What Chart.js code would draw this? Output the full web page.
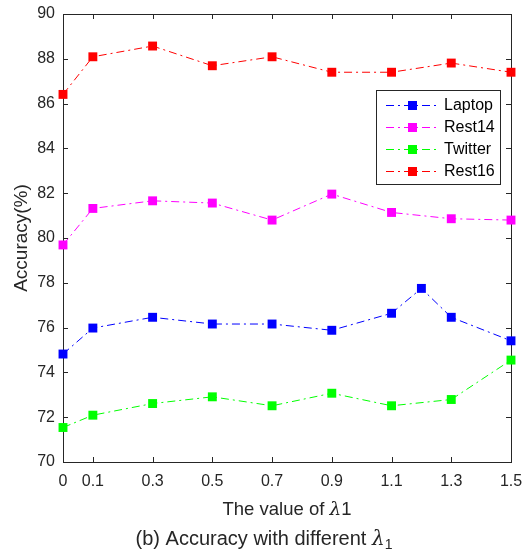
<!DOCTYPE html>
<html lang="en">
<head>
<meta charset="UTF-8">
<title>Accuracy with different lambda1</title>
<script src="https://cdn.jsdelivr.net/npm/chart.js"></script>
<style>
  body, html { margin: 0; padding: 0; background: #fff; }
  #chart { display: block; }
</style>
</head>
<body>
<canvas id="chart" width="524" height="554"></canvas>
<script>
// tick values on the x axis
const xTicks = [0, 0.1, 0.3, 0.5, 0.7, 0.9, 1.1, 1.3, 1.5];
// lambda values where the models were evaluated
const lambdaAll = [0, 0.1, 0.3, 0.5, 0.7, 0.9, 1.1, 1.3, 1.5];
const lambdaLaptop = [0, 0.1, 0.3, 0.5, 0.7, 0.9, 1.1, 1.2, 1.3, 1.5];

const laptop  = [74.82, 75.98, 76.46, 76.16, 76.16, 75.88, 76.64, 77.75, 76.46, 75.41];
const rest14  = [79.69, 81.32, 81.66, 81.56, 80.80, 81.96, 81.14, 80.86, 80.80];
const twitter = [71.54, 72.09, 72.61, 72.91, 72.51, 73.07, 72.51, 72.79, 74.55];
const rest16  = [86.41, 88.09, 88.57, 87.69, 88.09, 87.40, 87.40, 87.81, 87.40];

const seriesNames = ['Laptop', 'Rest14', 'Twitter', 'Rest16'];
const seriesColors = ['#0000ff', '#ff00ff', '#00ff00', '#ff0000'];

const FONT = '"Liberation Sans", Arial, Helvetica, sans-serif';
const INK = '#262626';
const DASH = [8, 4, 2, 4];

function pts(xs, ys) {
  return ys.map((y, i) => ({ x: xs[i], y: y }));
}

function makeSet(i, xs, ys) {
  return {
    label: seriesNames[i],
    data: pts(xs, ys),
    borderColor: seriesColors[i],
    backgroundColor: seriesColors[i],
    borderWidth: 1,
    borderDash: DASH,
    pointStyle: 'rect',
    pointRadius: 6.3,
    pointHoverRadius: 6.3,
    pointBorderWidth: 0,
    tension: 0,
    clip: false
  };
}

// frame with inward ticks, like the matlab box
const framePlugin = {
  id: 'frame',
  beforeDatasetsDraw(chart) {
    const { ctx, chartArea: a, scales } = chart;
    ctx.save();
    ctx.strokeStyle = INK;
    ctx.lineWidth = 1;
    ctx.strokeRect(Math.round(a.left) + 0.5, Math.round(a.top) + 0.5,
      Math.round(a.right - a.left), Math.round(a.bottom - a.top));
    ctx.beginPath();
    xTicks.forEach(v => {
      const x = Math.round(scales.x.getPixelForValue(v)) + 0.5;
      ctx.moveTo(x, a.bottom); ctx.lineTo(x, a.bottom - 5);
      ctx.moveTo(x, a.top); ctx.lineTo(x, a.top + 5);
    });
    scales.y.ticks.forEach(t => {
      const y = Math.round(scales.y.getPixelForValue(t.value)) + 0.5;
      ctx.moveTo(a.left, y); ctx.lineTo(a.left + 5, y);
      ctx.moveTo(a.right, y); ctx.lineTo(a.right - 5, y);
    });
    ctx.stroke();
    ctx.restore();
  },
  afterDraw(chart) {
    const { ctx, chartArea: a } = chart;
    ctx.save();

    // legend box
    const bx = 376.5, by = 90.5, bw = 124, bh = 94;
    ctx.fillStyle = '#fff';
    ctx.fillRect(bx, by, bw, bh);
    ctx.strokeStyle = INK;
    ctx.lineWidth = 1;
    ctx.strokeRect(bx, by, bw, bh);
    ctx.font = '16px ' + FONT;
    ctx.textBaseline = 'middle';
    ctx.textAlign = 'left';
    seriesNames.forEach((name, i) => {
      const y = 105 + i * 22;
      ctx.strokeStyle = seriesColors[i];
      ctx.setLineDash(DASH);
      ctx.beginPath();
      ctx.moveTo(386, y + 0.5); ctx.lineTo(439, y + 0.5);
      ctx.stroke();
      ctx.setLineDash([]);
      ctx.fillStyle = seriesColors[i];
      ctx.fillRect(408, y - 4, 9, 9);
      ctx.fillStyle = '#000';
      ctx.fillText(name, 444, y + 1);
    });

    // y axis title
    ctx.fillStyle = INK;
    ctx.font = '19px ' + FONT;
    ctx.textAlign = 'center';
    ctx.save();
    ctx.translate(22, (a.top + a.bottom) / 2);
    ctx.rotate(-Math.PI / 2);
    ctx.fillText('Accuracy(%)', 0, 0);
    ctx.restore();

    // x axis title and caption, with italic lambda
    drawParts(ctx, (a.left + a.right) / 2, 515, [
      { t: 'The value of ', f: '18.5px ' + FONT },
      { t: 'λ', f: 'italic 18.5px "DejaVu Serif", serif' },
      { t: '1', f: '18.5px ' + FONT }
    ]);
    drawParts(ctx, 264, 545, [
      { t: '(b) Accuracy with different ', f: '20px ' + FONT },
      { t: 'λ', f: 'italic 20px "DejaVu Serif", serif' },
      { t: '1', f: '14px ' + FONT, dy: 4 }
    ]);
    ctx.restore();
  }
};

function drawParts(ctx, cx, baseY, parts) {
  ctx.textBaseline = 'alphabetic';
  ctx.textAlign = 'left';
  let w = 0;
  parts.forEach(p => { ctx.font = p.f; p.w = ctx.measureText(p.t).width; w += p.w; });
  let x = cx - w / 2;
  parts.forEach(p => {
    ctx.font = p.f;
    ctx.fillText(p.t, x, baseY + (p.dy || 0));
    x += p.w;
  });
}

new Chart(document.getElementById('chart'), {
  type: 'line',
  data: {
    datasets: [
      makeSet(0, lambdaLaptop, laptop),
      makeSet(1, lambdaAll, rest14),
      makeSet(2, lambdaAll, twitter),
      makeSet(3, lambdaAll, rest16)
    ]
  },
  options: {
    responsive: false,
    animation: false,
    layout: { padding: { left: 0, right: 13, top: 14, bottom: 0 } },
    plugins: { legend: { display: false }, tooltip: { enabled: false } },
    scales: {
      x: {
        type: 'linear',
        min: 0,
        max: 1.5,
        afterBuildTicks: s => { s.ticks = xTicks.map(v => ({ value: v })); },
        afterFit: s => { s.height = 92; },
        // tickLength only spaces the labels, the visible ticks come from the plugin
        grid: { display: false, drawTicks: true, tickLength: 10 },
        border: { display: false },
        ticks: {
          color: INK,
          padding: 0,
          maxRotation: 0,
          autoSkip: false,
          font: { family: FONT, size: 16 },
          callback: v => String(v)
        }
      },
      y: {
        min: 70,
        max: 90,
        afterFit: s => { s.width = 63; },
        grid: { display: false, drawTicks: true, tickLength: 8 },
        border: { display: false },
        ticks: {
          color: INK,
          stepSize: 2,
          padding: 0,
          font: { family: FONT, size: 16 }
        }
      }
    }
  },
  plugins: [framePlugin]
});
</script>
</body>
</html>
